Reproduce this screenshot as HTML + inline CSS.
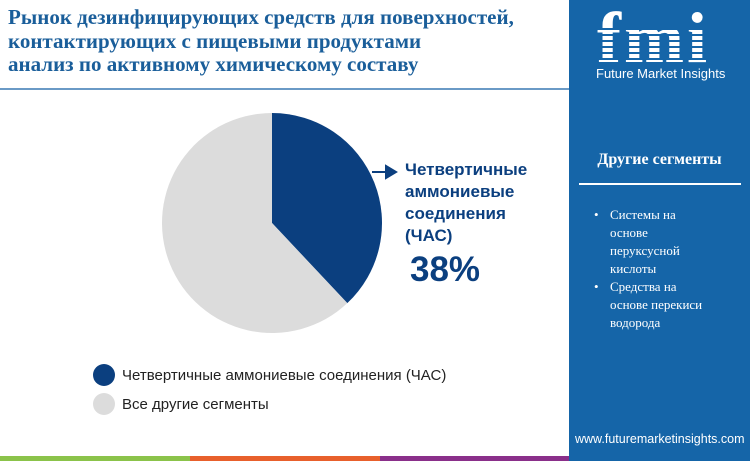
<!DOCTYPE html>
<html><head><meta charset="utf-8"><style>
body{margin:0;width:750px;height:461px;overflow:hidden;background:#fff;position:relative;font-family:"Liberation Sans",sans-serif}
.title{position:absolute;left:8px;top:6px;font-family:"Liberation Serif",serif;font-weight:bold;font-size:21px;line-height:23.5px;color:#1a5e9a}
.side{position:absolute;left:569px;top:0;width:181px;height:461px;background:#1565a8}
</style></head><body>
<div class="title">Рынок дезинфицирующих средств для поверхностей,<br>контактирующих с пищевыми продуктами<br>анализ по активному химическому составу</div>
<div style="position:absolute;left:0;top:88px;width:569px;height:2px;background:#6a9ac6"></div>
<div class="side">
 <div style="position:absolute;left:28px;top:10px;width:130px;height:56px;font-family:'Liberation Serif',serif;font-weight:bold;font-size:72px;line-height:56px;color:#fff;letter-spacing:3px;">fmi</div>
 <div style="position:absolute;left:28px;top:24px;width:130px;height:40px;background:repeating-linear-gradient(transparent 0 4px,#1565a8 4px 6px)"></div>
 <div style="position:absolute;left:27px;top:66px;color:#fff;font-size:13px">Future Market Insights</div>
 <div style="position:absolute;left:0;width:181px;top:151px;text-align:center;color:#fff;font-family:'Liberation Serif',serif;font-weight:bold;font-size:16px">Другие сегменты</div>
 <div style="position:absolute;left:10px;top:183px;width:162px;height:2px;background:#fff"></div>
 <div style="position:absolute;left:41px;top:206px;width:135px;color:#fff;font-family:'Liberation Serif',serif;font-size:13px;line-height:18px">
  <div style="position:relative">Системы на<br>основе<br>перуксусной<br>кислоты<span style="position:absolute;left:-16px;top:0">•</span></div>
  <div style="position:relative">Средства на<br>основе перекиси<br>водорода<span style="position:absolute;left:-16px;top:0">•</span></div>
 </div>
 <div style="position:absolute;left:6px;top:432px;color:#fff;font-size:12.5px">www.futuremarketinsights.com</div>
</div>
<div style="position:absolute;left:0;top:456px;width:190px;height:5px;background:#8bc34a"></div>
<div style="position:absolute;left:190px;top:456px;width:190px;height:5px;background:#e8602c"></div>
<div style="position:absolute;left:380px;top:456px;width:189px;height:5px;background:#8a2f8a"></div>
<svg id="chart" width="569" height="440" style="position:absolute;left:0;top:0"></svg>
<script>
const categories=["Четвертичные аммониевые соединения (ЧАС)","Все другие сегменты"];
const values=[38,62];
const colors=["#0b3f7f","#dcdcdc"];
const svg=document.getElementById('chart');
const NS='http://www.w3.org/2000/svg';
const cx=272,cy=223,r=110;
const total=values.reduce((a,b)=>a+b,0);
let a0=0;
function pt(a){return [cx+r*Math.sin(a),cy-r*Math.cos(a)];}
values.forEach((v,i)=>{
 const a1=a0+v/total*2*Math.PI;
 const p0=pt(a0),p1=pt(a1);
 const p=document.createElementNS(NS,'path');
 p.setAttribute('d',`M${cx},${cy}L${p0[0]},${p0[1]}A${r},${r} 0 ${a1-a0>Math.PI?1:0} 1 ${p1[0]},${p1[1]}Z`);
 p.setAttribute('fill',colors[i]);
 
 
 svg.appendChild(p);
 a0=a1;
});
function add(tag,attrs,text){const e=document.createElementNS(NS,tag);for(const k in attrs)e.setAttribute(k,attrs[k]);if(text)e.textContent=text;svg.appendChild(e);return e;}
const arr=add('path',{d:'M372,172H388M386,166L396,172L386,178Z',stroke:'#0b3f7f','stroke-width':2,fill:'#0b3f7f'});


["Четвертичные","аммониевые","соединения","(ЧАС)"].forEach((t,i)=>{
 const e=add('text',{x:405,y:175+i*22,'font-size':17,'font-weight':'bold',fill:'#0b3f7f','font-family':'Liberation Sans, sans-serif'},t);
 
 
});
const pct=add('text',{x:410,y:281,'font-size':35,'font-weight':'bold',fill:'#0b3f7f','font-family':'Liberation Sans, sans-serif'},values[0]+'%');


categories.forEach((c,i)=>{
 const y=375+i*29;
 const ci=add('circle',{cx:104,cy:y,r:11,fill:colors[i]});
 
 
 const t=add('text',{x:122,y:y+5,'font-size':15,fill:'#222','font-family':'Liberation Sans, sans-serif'},c);
 
 
});
</script>
</body></html>
